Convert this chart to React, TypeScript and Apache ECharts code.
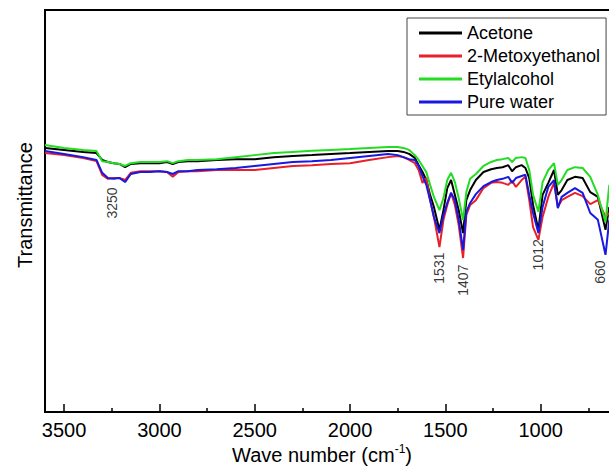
import React, { useEffect, useRef } from "react";
import * as echarts from "echarts";

const wavenumbers = [
  3600, 3500, 3400, 3330, 3300, 3270, 3240, 3210, 3180, 3150,
  3100, 3050, 3000, 2960, 2930, 2900, 2850, 2800, 2700, 2600,
  2500, 2400, 2300, 2200, 2100, 2000, 1900, 1800, 1750, 1720,
  1690, 1660, 1640, 1620, 1600, 1580, 1560, 1531, 1510, 1490,
  1470, 1450, 1430, 1407, 1390, 1370, 1340, 1300, 1260, 1230,
  1200, 1170, 1150, 1130, 1100, 1080, 1060, 1040, 1012, 990,
  960, 930, 910, 890, 860, 820, 780, 740, 700, 660,
  640,
];

const acetone = [
  65.7, 65.2, 64.7, 64.4, 62.7, 62.2, 61.9, 61.7, 60.9, 61.7,
  61.9, 61.9, 61.9, 62.2, 61.7, 62.2, 62.4, 62.4, 62.7, 62.9,
  62.9, 63.4, 63.7, 63.9, 64.2, 64.4, 64.7, 64.9, 64.9, 64.7,
  64.2, 63.2, 61.4, 59.7, 57.7, 54.0, 51.0, 45.3, 50.2, 55.7,
  57.7, 54.0, 50.2, 44.5, 52.7, 55.2, 57.7, 59.7, 60.4, 60.7,
  60.9, 61.4, 59.9, 60.9, 61.4, 60.7, 58.2, 51.5, 45.3, 54.0,
  57.0, 60.2, 54.0, 55.2, 57.7, 58.5, 58.2, 54.7, 53.5, 45.3,
  51.0,
];

const metoxyethanol = [
  64.4, 63.9, 63.2, 62.4, 59.0, 58.0, 58.2, 58.2, 57.7, 59.5,
  59.9, 59.9, 59.9, 59.7, 58.5, 59.7, 59.9, 59.9, 60.2, 60.2,
  60.2, 60.7, 61.2, 61.4, 61.7, 61.9, 62.7, 63.4, 63.7, 63.4,
  62.7, 61.9, 60.2, 57.0, 58.2, 52.7, 48.5, 41.0, 47.8, 51.5,
  54.5, 51.5, 46.5, 38.3, 49.0, 51.5, 52.7, 55.7, 57.0, 57.2,
  57.0, 56.5, 57.5, 56.0, 57.7, 58.5, 52.7, 46.0, 42.8, 48.5,
  53.5, 57.0, 51.0, 52.7, 53.5, 54.5, 53.7, 51.7, 52.7, 48.5,
  49.5,
];

const etylalcohol = [
  66.4, 65.7, 65.2, 64.9, 62.4, 62.2, 61.9, 61.7, 61.2, 61.9,
  62.2, 62.2, 62.2, 62.4, 61.9, 62.4, 62.7, 62.7, 62.9, 63.4,
  63.9, 64.4, 64.7, 65.0, 65.2, 65.4, 65.7, 65.9, 65.9, 65.7,
  65.2, 63.9, 62.7, 61.2, 59.7, 56.5, 53.5, 50.2, 53.2, 57.7,
  59.5, 57.2, 53.2, 47.8, 54.7, 58.0, 59.2, 61.2, 62.2, 62.7,
  62.9, 63.2, 62.2, 63.2, 63.4, 63.2, 60.2, 54.0, 49.8, 57.2,
  60.2, 61.9, 56.5, 57.7, 60.2, 60.9, 60.7, 58.5, 54.0, 47.3,
  56.5,
];

const pureWater = [
  64.9, 64.2, 63.4, 62.7, 59.5, 58.2, 58.0, 58.2, 57.2, 59.2,
  59.7, 59.7, 59.9, 59.7, 59.2, 59.9, 59.9, 60.2, 60.4, 60.7,
  61.2, 61.7, 62.2, 62.4, 62.7, 63.2, 63.7, 64.2, 63.9, 63.4,
  62.9, 62.7, 61.2, 58.7, 56.5, 52.7, 48.5, 44.5, 49.0, 52.0,
  54.5, 52.7, 47.8, 40.3, 49.8, 52.0, 54.2, 56.2, 57.2, 57.7,
  58.0, 58.5, 57.0, 58.2, 58.7, 59.0, 54.0, 49.5, 44.5, 51.0,
  56.0, 57.7, 50.7, 53.5, 54.5, 55.7, 54.5, 49.5, 47.8, 39.1,
  47.8,
];

const seriesNames = ["Acetone", "2-Metoxyethanol", "Etylalcohol", "Pure water"];
const seriesColors = ["#000000", "#e8202a", "#22dd22", "#1818e0"];
const seriesValues = [acetone, metoxyethanol, etylalcohol, pureWater];

const peakWavenumbers = [3250, 1531, 1407, 1012, 660];
const peakLabelLevels = [52.0, 35.8, 32.8, 39.1, 34.8];

const FONT = "'Liberation Sans', Arial, Helvetica, sans-serif";

export default function App() {
  const ref = useRef<HTMLDivElement>(null);

  useEffect(() => {
    if (!ref.current) return;
    const chart = echarts.init(ref.current, null, { renderer: "svg" });

    const lineSeries = seriesNames.map((name, i) => ({
      name,
      type: "line",
      data: wavenumbers.map((w, j) => [w, seriesValues[i][j]]),
      showSymbol: false,
      symbol: "none",
      lineStyle: { color: seriesColors[i], width: 2 },
      itemStyle: { color: seriesColors[i] },
      z: 2 + i,
    }));

    const peakSeries = {
      name: "peaks",
      type: "scatter",
      symbolSize: 1,
      itemStyle: { color: "transparent" },
      data: peakWavenumbers.map((w, i) => ({
        value: [w, peakLabelLevels[i]],
        name: String(w),
        label: i === peakWavenumbers.length - 1 ? { offset: [0, -5] } : undefined,
      })),
      label: {
        show: true,
        position: "inside",
        rotate: 90,
        formatter: (p: any) => p.name,
        fontSize: 14,
        fontFamily: FONT,
        color: "#000",
        align: "center",
        verticalAlign: "middle",
      },
      z: 10,
    };

    chart.setOption({
      animation: false,
      backgroundColor: "#fff",
      grid: {
        left: 45,
        top: 10,
        width: 591,
        height: 402,
        containLabel: false,
        outerBoundsMode: "none",
        show: true,
        borderColor: "#000",
        borderWidth: 2,
        backgroundColor: "transparent",
      },
      legend: {
        data: seriesNames,
        orient: "vertical",
        left: 407,
        top: 18,
        padding: [5, 6, 3, 12],
        itemGap: 3,
        itemWidth: 43,
        itemHeight: 3,
        icon: "rect",
        borderColor: "#444",
        borderWidth: 1,
        backgroundColor: "#fff",
        textStyle: { fontSize: 18, fontFamily: FONT, color: "#000", lineHeight: 20 },
      },
      xAxis: {
        type: "value",
        inverse: true,
        min: 500,
        max: 3600,
        interval: 500,
        axisLine: { show: true, lineStyle: { color: "#000", width: 2 } },
        axisTick: { show: true, inside: true, length: 8, lineStyle: { color: "#000", width: 1.5 } },
        minorTick: { show: true, splitNumber: 2, length: 4, lineStyle: { color: "#000", width: 1.5 } },
        axisLabel: {
          fontSize: 20,
          fontFamily: FONT,
          color: "#000",
          margin: 8,
          showMinLabel: false,
          formatter: (v: number) => (v < 1000 ? "" : String(v)),
        },
        splitLine: { show: false },
        minorSplitLine: { show: false },
      },
      yAxis: {
        type: "value",
        min: 0,
        max: 100,
        axisLine: { show: true, lineStyle: { color: "#000", width: 2 } },
        axisTick: { show: false },
        axisLabel: { show: false },
        splitLine: { show: false },
      },
      graphic: [
        {
          type: "text",
          x: 25,
          y: 205,
          rotation: Math.PI / 2,
          style: {
            text: "Transmittance",
            fontSize: 20,
            fontFamily: FONT,
            fill: "#000",
            align: "center",
            verticalAlign: "middle",
          },
        },
        {
          type: "text",
          x: 322,
          y: 455,
          style: {
            text: "{a|Wave number (cm}{b|-1}{a|)}",
            align: "center",
            verticalAlign: "middle",
            rich: {
              a: { fontSize: 20, fontFamily: FONT, fill: "#000", lineHeight: 24 },
              b: { fontSize: 12, fontFamily: FONT, fill: "#000", verticalAlign: "top", lineHeight: 14 },
            },
          },
        },
      ],
      series: [...lineSeries, peakSeries],
    });

    return () => chart.dispose();
  }, []);

  return (
    <div
      ref={ref}
      style={{ position: "fixed", left: 0, top: 0, width: 609, height: 469, background: "#fff" }}
    />
  );
}
